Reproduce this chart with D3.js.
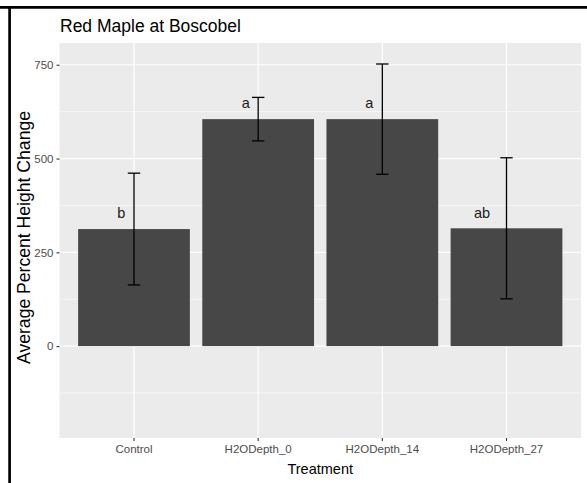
<!DOCTYPE html>
<html>
<head>
<meta charset="utf-8">
<script src="https://cdn.jsdelivr.net/npm/d3@7/dist/d3.min.js"></script>
<style>
  html, body { margin: 0; padding: 0; background: #ffffff; }
  svg { display: block; font-family: "Liberation Sans", Arial, Helvetica, sans-serif; }
</style>
</head>
<body>
<svg id="chart" width="587" height="483"></svg>
<script>
// Treatment groups and their mean percent height change
const treatments = ["Control", "H2ODepth_0", "H2ODepth_14", "H2ODepth_27"];
const meanChange = [312, 605, 605, 314];
// Half-width of each error bar
const errorSize = [149, 58, 147, 188];
// Significance group letters
const groupLetters = ["b", "a", "a", "ab"];
// Y-axis ticks
const yTicks = [0, 250, 500, 750];
const yMinorTicks = [-125, 125, 375, 625];

const svg = d3.select("#chart");
const W = 587, H = 483;
const panel = { left: 59.5, right: 581, top: 43, bottom: 438 };

// Frame lines along the top and left edges
svg.append("line").attr("x1", 0).attr("x2", W).attr("y1", 7.3).attr("y2", 7.3)
  .attr("stroke", "#000").attr("stroke-width", 2.7);
svg.append("line").attr("x1", 9.6).attr("x2", 9.6).attr("y1", 6).attr("y2", H)
  .attr("stroke", "#000").attr("stroke-width", 2.7);

const x = d3.scaleBand()
  .domain(treatments)
  .range([panel.left, panel.right])
  .paddingInner(0.1)
  .paddingOuter(0.15);

const y = d3.scaleLinear()
  .domain([-245, 808])
  .range([panel.bottom, panel.top]);

// Panel background
svg.append("rect")
  .attr("x", panel.left).attr("y", panel.top)
  .attr("width", panel.right - panel.left).attr("height", panel.bottom - panel.top)
  .attr("fill", "#ebebeb");

const grid = svg.append("g");
grid.selectAll("line.minor").data(yMinorTicks).join("line")
  .attr("class", "minor")
  .attr("x1", panel.left).attr("x2", panel.right)
  .attr("y1", d => y(d)).attr("y2", d => y(d))
  .attr("stroke", "#fff").attr("stroke-width", 0.6);
grid.selectAll("line.major").data(yTicks).join("line")
  .attr("class", "major")
  .attr("x1", panel.left).attr("x2", panel.right)
  .attr("y1", d => y(d)).attr("y2", d => y(d))
  .attr("stroke", "#fff").attr("stroke-width", 1.2);
grid.selectAll("line.vmajor").data(treatments).join("line")
  .attr("class", "vmajor")
  .attr("x1", d => x(d) + x.bandwidth() / 2).attr("x2", d => x(d) + x.bandwidth() / 2)
  .attr("y1", panel.top).attr("y2", panel.bottom)
  .attr("stroke", "#fff").attr("stroke-width", 1.2);

const rows = treatments.map((t, i) => ({
  t, mean: meanChange[i], err: errorSize[i], letter: groupLetters[i]
}));

// Bars
svg.append("g").selectAll("rect").data(rows).join("rect")
  .attr("x", d => x(d.t))
  .attr("width", x.bandwidth())
  .attr("y", d => y(d.mean))
  .attr("height", d => y(0) - y(d.mean))
  .attr("fill", "#474747");

// Error bars
const capHalf = x.step() * 0.05;
const eb = svg.append("g").attr("stroke", "#000").attr("stroke-width", 1.3).attr("fill", "none");
rows.forEach(d => {
  const cx = x(d.t) + x.bandwidth() / 2;
  const g = eb.append("g");
  g.append("line").attr("x1", cx).attr("x2", cx)
    .attr("y1", y(d.mean + d.err)).attr("y2", y(d.mean - d.err));
  g.append("line").attr("x1", cx - capHalf).attr("x2", cx + capHalf)
    .attr("y1", y(d.mean + d.err)).attr("y2", y(d.mean + d.err));
  g.append("line").attr("x1", cx - capHalf).attr("x2", cx + capHalf)
    .attr("y1", y(d.mean - d.err)).attr("y2", y(d.mean - d.err));
});

// Group letters, set just left of each error bar
const letterNudge = [-12.7, -12.5, -13, -24.5];
svg.append("g").selectAll("text").data(rows).join("text")
  .attr("x", (d, i) => x(d.t) + x.bandwidth() / 2 + letterNudge[i])
  .attr("y", d => y(d.mean) - 16)
  .attr("dy", "0.36em")
  .attr("text-anchor", "middle")
  .attr("font-size", 14.5)
  .attr("fill", "#1a1a1a")
  .text(d => d.letter);

// Y axis
const yAxis = svg.append("g").attr("transform", `translate(${panel.left},0)`)
  .call(d3.axisLeft(y).tickValues(yTicks).tickSize(3).tickPadding(3));
yAxis.select(".domain").remove();
yAxis.selectAll(".tick line").attr("stroke", "#333").attr("stroke-width", 1.1);
yAxis.selectAll(".tick text").attr("fill", "#4d4d4d").attr("font-size", 11.5)
  .attr("font-family", "Liberation Sans, Arial, sans-serif");

// X axis
const xAxis = svg.append("g").attr("transform", `translate(0,${panel.bottom})`)
  .call(d3.axisBottom(x).tickSize(3).tickPadding(4));
xAxis.select(".domain").remove();
xAxis.selectAll(".tick line").attr("stroke", "#333").attr("stroke-width", 1.1);
xAxis.selectAll(".tick text").attr("fill", "#4d4d4d").attr("font-size", 11.5)
  .attr("font-family", "Liberation Sans, Arial, sans-serif");

// Titles
svg.append("text").attr("x", 60).attr("y", 32)
  .attr("font-size", 17.5).attr("fill", "#000").text("Red Maple at Boscobel");
svg.append("text").attr("x", (panel.left + panel.right) / 2).attr("y", 474)
  .attr("text-anchor", "middle").attr("font-size", 14.5).attr("fill", "#000").text("Treatment");
svg.append("text")
  .attr("transform", `translate(30,${(panel.top + panel.bottom) / 2 - 3}) rotate(-90)`)
  .attr("text-anchor", "middle").attr("font-size", 17.6).attr("fill", "#000")
  .text("Average Percent Height Change");
</script>
</body>
</html>
